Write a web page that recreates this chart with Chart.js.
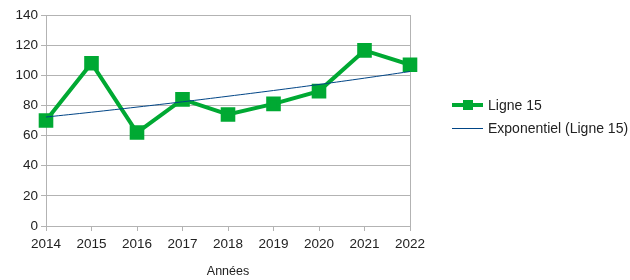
<!DOCTYPE html>
<html>
<head>
<meta charset="utf-8">
<script src="https://cdn.jsdelivr.net/npm/chart.js@4"></script>
<style>
  body { margin: 0; background: #fff; }
  #wrap { position: relative; width: 630px; height: 280px; }
  #legende { position: absolute; left: 452px; top: 93px; font: 14px "Liberation Sans", Arial, sans-serif; color: #222; }
  .item { display: flex; align-items: center; height: 23px; }
  .ech { position: relative; width: 31px; height: 12px; margin-right: 5px; }
  .ech .l { position: absolute; left: 0; right: 0; top: 50%; }
  .ech .m { position: absolute; left: 11px; top: 1px; width: 10px; height: 10px; background: #00a933; }
</style>
</head>
<body>
<div id="wrap">
  <canvas id="graphique" width="630" height="280"></canvas>
  <div id="legende"></div>
</div>
<script>
// donnees
var annees = ['2014', '2015', '2016', '2017', '2018', '2019', '2020', '2021', '2022'];
var ligne15 = [70, 108, 62, 84, 74, 81, 89.5, 116.5, 107];
var tendance = [72.3, 75.5, 78.9, 82.4, 86.1, 89.9, 93.9, 98.1, 102.5];
var ticksY = [0, 20, 40, 60, 80, 100, 120, 140];

var vert = '#00a933';
var bleu = '#004586';
var gris = '#b3b3b3';
var police = '"Liberation Sans", Arial, sans-serif';

var ctx = document.getElementById('graphique').getContext('2d');
var chart = new Chart(ctx, {
    type: 'line',
    data: {
        labels: annees,
        datasets: [{
            label: 'Ligne 15',
            data: ligne15,
            borderColor: vert,
            backgroundColor: vert,
            borderWidth: 4,
            pointStyle: 'rect',
            pointRadius: 7.5,
            pointHoverRadius: 7.5,
            tension: 0,
            order: 1
        }, {
            label: 'Exponentiel (Ligne 15)',
            data: tendance,
            borderColor: bleu,
            borderWidth: 1,
            pointRadius: 0,
            tension: 0.4,
            order: 0
        }]
    },
    options: {
        responsive: false,
        animation: false,
        layout: { padding: { top: 15, right: 220, left: 0, bottom: 1 } },
        plugins: {
            legend: { display: false },
            tooltip: { enabled: false }
        },
        scales: {
            x: {
                offset: false,
                afterFit: function (axis) { axis.height = 53; },
                grid: {
                    color: function (c) { return c.index === annees.length - 1 ? gris : 'rgba(0,0,0,0)'; },
                    tickColor: gris,
                    tickLength: 5
                },
                border: { color: gris },
                ticks: { color: '#222', font: { family: police, size: 13.5 }, maxRotation: 0, padding: 5 },
                title: { display: true, text: 'Années', color: '#222', font: { family: police, size: 12.5 }, padding: { top: 8, bottom: 0 } }
            },
            y: {
                min: 0,
                max: 140,
                afterFit: function (axis) { axis.width = 46; },
                afterBuildTicks: function (axis) { axis.ticks = ticksY.map(function (v) { return { value: v }; }); },
                grid: { color: gris, tickColor: gris, tickLength: 5 },
                border: { color: gris },
                ticks: { color: '#222', font: { family: police, size: 13.5 }, padding: 3 }
            }
        }
    }
});

// legende a droite
var legende = document.getElementById('legende');
legende.innerHTML =
    '<div class="item"><div class="ech"><div class="l" style="height:4px;margin-top:-2px;background:' + vert + '"></div><div class="m"></div></div>' + chart.data.datasets[0].label + '</div>' +
    '<div class="item"><div class="ech"><div class="l" style="height:1px;background:' + bleu + '"></div></div>' + chart.data.datasets[1].label + '</div>';
</script>
</body>
</html>
